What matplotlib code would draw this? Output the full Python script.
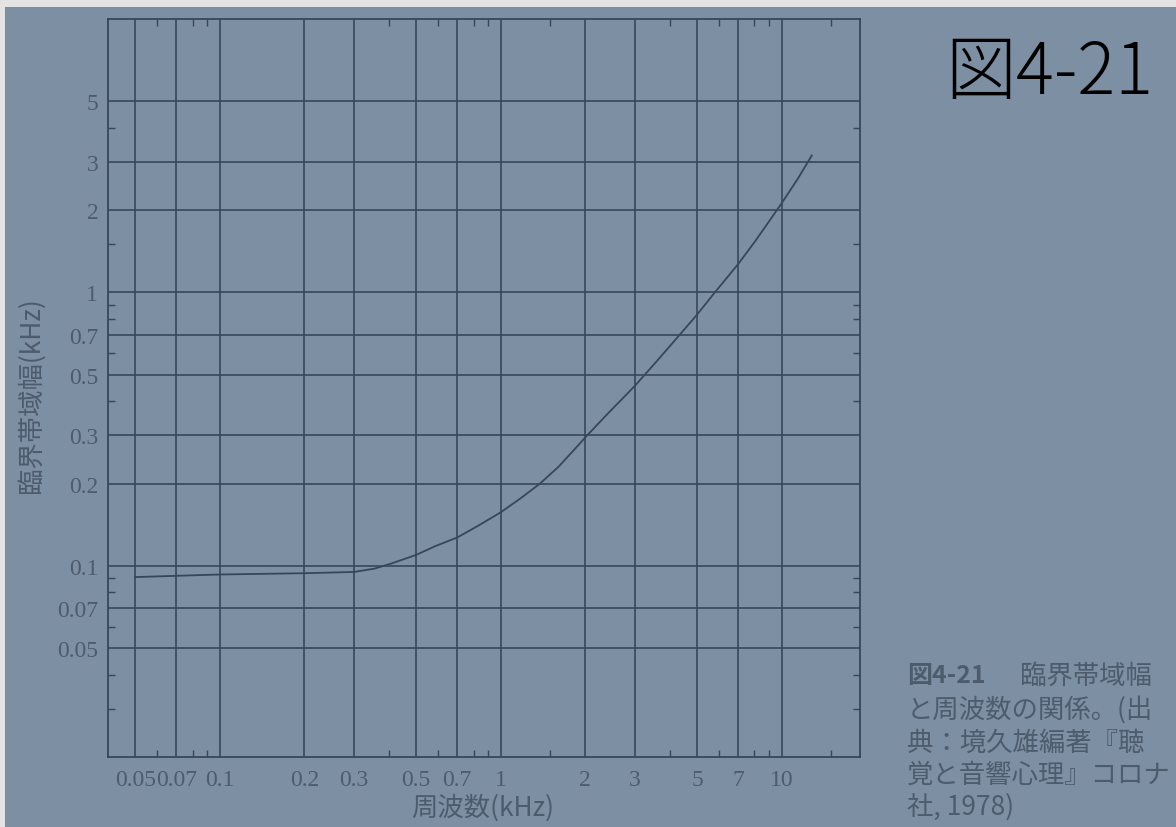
import matplotlib
matplotlib.use("Agg")
import matplotlib.pyplot as plt
from matplotlib.ticker import FixedLocator, FixedFormatter, NullFormatter
from matplotlib.patches import Rectangle

# Critical bandwidth versus centre frequency (both in kHz)
freq_khz = [0.05, 0.1, 0.2, 0.3, 0.355, 0.408, 0.5, 0.584, 0.7, 0.829,
            1.0, 1.18, 1.38, 1.61, 1.85, 2.0, 2.37, 3.0, 3.6, 4.23, 5.0,
            5.69, 7.0, 8.05, 10.0, 11.4, 12.8]
bandwidth_khz = [0.091, 0.093, 0.094, 0.095, 0.0977, 0.102, 0.1097, 0.118,
                 0.127, 0.140, 0.157, 0.177, 0.200, 0.231, 0.270, 0.295,
                 0.355, 0.455, 0.562, 0.68, 0.83, 0.98, 1.27, 1.54, 2.12,
                 2.6, 3.17]

x_major = [0.05, 0.07, 0.1, 0.2, 0.3, 0.5, 0.7, 1, 2, 3, 5, 7, 10]
x_labels = ["0.05", "0.07", "0.1", "0.2", "0.3", "0.5", "0.7",
            "1", "2", "3", "5", "7", "10"]
x_minor = [0.06, 0.08, 0.09, 0.4, 0.6, 0.8, 0.9, 1.5, 4, 6, 8, 9, 15]

y_major = [0.05, 0.07, 0.1, 0.2, 0.3, 0.5, 0.7, 1, 2, 3, 5]
y_labels = ["0.05", "0.07", "0.1", "0.2", "0.3", "0.5", "0.7",
            "1", "2", "3", "5"]
y_minor = [0.03, 0.04, 0.06, 0.08, 0.09, 0.4, 0.6, 0.8, 0.9, 1.5, 4]

x_title = "周波数(kHz)"
y_title = "臨界帯域幅(kHz)"
fig_number = "図4-21"
caption_head = "図4-21"
caption_lines = ["臨界帯域幅",
                 "と周波数の関係。(出",
                 "典：境久雄編著『聴",
                 "覚と音響心理』コロナ",
                 "社, 1978)"]

PANEL = "#7d8fa2"
INK = "#36475a"
TEXT = "#4d5c6d"
CJK = ["Noto Sans CJK JP", "DejaVu Sans"]
SERIF = ["Liberation Serif", "DejaVu Serif"]

W, H = 1176, 828
fig = plt.figure(figsize=(W / 100, H / 100), dpi=100)
fig.patch.set_facecolor("#e4e4e4")
fig.add_artist(Rectangle((5 / W, 0), 1, (H - 8) / H, transform=fig.transFigure,
                         facecolor=PANEL, edgecolor="none", zorder=0))

ax = fig.add_axes([108 / W, 70 / H, 752 / W, 738 / H])
ax.set_facecolor("none")
ax.set_xscale("log")
ax.set_yscale("log")
ax.set_xlim(0.04, 19)
ax.set_ylim(0.02, 10)

ax.xaxis.set_major_locator(FixedLocator(x_major))
ax.xaxis.set_major_formatter(FixedFormatter(x_labels))
ax.xaxis.set_minor_locator(FixedLocator(x_minor))
ax.xaxis.set_minor_formatter(NullFormatter())
ax.yaxis.set_major_locator(FixedLocator(y_major))
ax.yaxis.set_major_formatter(FixedFormatter(y_labels))
ax.yaxis.set_minor_locator(FixedLocator(y_minor))
ax.yaxis.set_minor_formatter(NullFormatter())

ax.grid(True, which="major", color=INK, linewidth=1.2)
ax.tick_params(which="major", length=0, labelsize=17, labelcolor=TEXT)
ax.tick_params(axis="x", which="major", pad=9)
ax.tick_params(axis="y", which="major", pad=7)
ax.tick_params(which="minor", direction="in", length=5, width=1.0,
               color=INK, top=True, right=True)
for lab in ax.get_xticklabels() + ax.get_yticklabels():
    lab.set_family(SERIF)
for sp in ax.spines.values():
    sp.set_color(INK)
    sp.set_linewidth(1.3)

ax.plot(freq_khz, bandwidth_khz, color=INK, linewidth=1.3, zorder=3)

fig.text(483 / W, 1 - 808 / H, x_title, family=CJK, fontsize=19,
         color=TEXT, ha="center", va="center")
fig.text(31 / W, 1 - 395 / H, y_title, family=CJK, fontsize=19,
         color=TEXT, ha="center", va="center", rotation=90)

fig.text(945 / W, 1 - 74 / H, fig_number, family=CJK, fontsize=51,
         weight="light", color="black", ha="left", va="center")

fig.text(907 / W, 1 - 676 / H, caption_head, family=CJK, fontsize=18,
         weight="bold", color=TEXT, ha="left", va="center")
line_y = [676, 710, 743, 775, 807]
for i, (txt, yy) in enumerate(zip(caption_lines, line_y)):
    x0 = 1020 if i == 0 else 907
    fig.text(x0 / W, 1 - yy / H, txt, family=CJK, fontsize=19,
             color=TEXT, ha="left", va="center")

fig.savefig("out.png", dpi=100, facecolor=fig.get_facecolor())
